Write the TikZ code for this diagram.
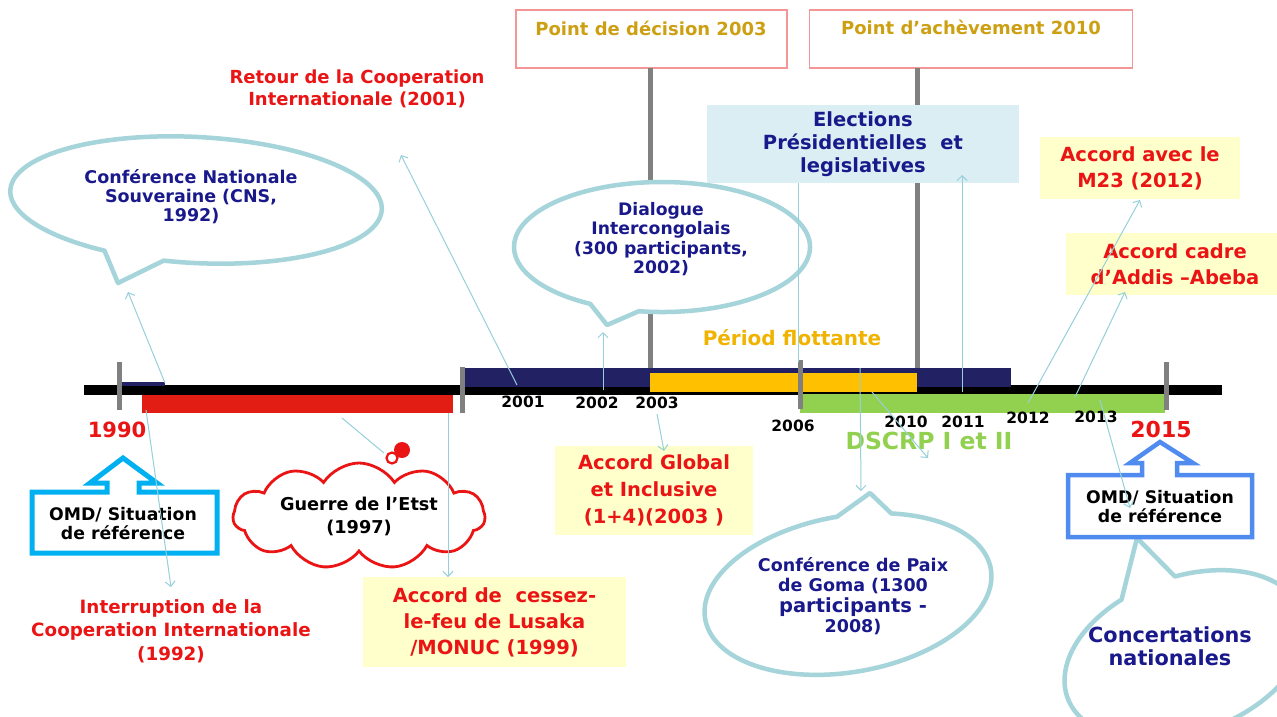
\documentclass[tikz,border=0pt]{standalone}
\usepackage{fontspec}
\setmainfont{DejaVu Sans}
\usetikzlibrary{arrows.meta,shapes.symbols}
\newcommand{\myfs}[2]{\fontsize{#1}{#2}\selectfont}
\definecolor{navytxt}{RGB}{25,25,140}
\definecolor{redtxt}{RGB}{235,20,20}
\definecolor{goldtxt}{RGB}{205,160,20}
\definecolor{flot}{RGB}{240,180,0}
\definecolor{dgreen}{RGB}{146,208,80}
\definecolor{ylw}{RGB}{255,255,204}
\definecolor{elec}{RGB}{218,238,243}
\definecolor{bub}{RGB}{165,212,218}
\definecolor{arr}{RGB}{150,208,218}
\definecolor{navybar}{RGB}{33,33,100}
\definecolor{orbar}{RGB}{255,192,0}
\definecolor{redbar}{RGB}{226,30,20}
\definecolor{grey}{RGB}{128,128,128}
\definecolor{pinkb}{RGB}{245,150,150}
\definecolor{omdl}{RGB}{0,176,240}
\definecolor{omdr}{RGB}{80,140,240}
\begin{document}
\begin{tikzpicture}[x=1pt,y=1pt,
  txt/.style={inner sep=0pt, align=center, font=\bfseries},
  conn/.style={draw=arr, line width=1pt, -{Straight Barb[length=5pt,width=10pt,line width=1pt]}},
  plainconn/.style={draw=arr, line width=1pt},
  bubble/.style={draw=bub, line width=4.5pt, fill=white, line join=round},
  topbox/.style={draw=pinkb, line width=1.2pt, fill=white, inner sep=0pt},
  ybox/.style={fill=ylw, draw=none, inner sep=0pt, align=center, text=redtxt},
  gline/.style={draw=grey, line width=5pt},
  tk/.style={draw=grey, line width=5pt},
  yr/.style={txt, font=\bfseries\myfs{15.5}{18}, text=black},
  omdbox/.style={line width=5pt, fill=white, line join=miter}
]
\useasboundingbox (0,0) rectangle (1277,-716);
\fill[white] (0,0) rectangle (1277,-716);
\clip (0,0) rectangle (1277,-716);

% ---------- top boxes ----------
\node[topbox, minimum width=271pt, minimum height=58pt] (pd) at (651.5,-39) {};
\node[txt, text=goldtxt, font=\bfseries\myfs{18}{21}] (pdt) at (651,-28) {Point de décision 2003};
\node[topbox, minimum width=323pt, minimum height=58pt] (pa) at (971,-39) {};
\node[txt, text=goldtxt, font=\bfseries\myfs{18}{21}] (pat) at (971,-27) {Point d’achèvement 2010};

% ---------- grey verticals ----------
\coordinate (g1a) at (650,-68); \coordinate (g1b) at (650,-373);
\coordinate (g2a) at (917,-68); \coordinate (g2b) at (917,-373);
\draw[gline] (g1a) -- (g1b);
\draw[gline] (g2a) -- (g2b);

% ---------- bars ----------
\fill[black] (84,-385) rectangle (1222,-395);
\fill[navybar] (118,-382) rectangle (165,-386);
\fill[redbar] (142,-395) rectangle (453,-413);
\fill[navybar] (461,-368) rectangle (1011,-387);
\fill[orbar] (650,-373) rectangle (917,-392);
\fill[dgreen] (800,-394) rectangle (1165,-413);
\draw[tk] (119,-362) -- (119,-410);
\draw[tk] (462,-367) -- (462,-413);
\draw[tk] (800,-360) -- (800,-409);
\draw[tk] (1166,-362) -- (1166,-410);

% ---------- Retour ----------
\node[txt, text=redtxt, font=\bfseries\myfs{18}{22}] (retour) at (357,-89) {Retour de la Cooperation\\Internationale (2001)};

% ---------- speech bubbles ----------
\coordinate (t1) at (118,-283);
\begin{scope}[shift={(196,-200)}, rotate=-3]
\draw[bubble] (261:186 and 63) arc[start angle=261, end angle=601.5, x radius=186, y radius=63] -- (t1) -- cycle;
\end{scope}
\node[txt, text=navytxt, font=\bfseries\myfs{17.5}{19}] (cns) at (191,-197) {Conférence Nationale\\Souveraine (CNS,\\1992)};

\coordinate (t2) at (607,-325);
\begin{scope}[shift={(662,-247)}]
\draw[bubble] (261:148 and 65) arc[start angle=261, end angle=601, x radius=148, y radius=65] -- (t2) -- cycle;
\end{scope}
\node[txt, text=navytxt, font=\bfseries\myfs{17.2}{19.5}] (dial) at (661,-239) {Dialogue\\Intercongolais\\(300 participants,\\2002)};

\coordinate (t3) at (870,-493);
\begin{scope}[shift={(848,-594)}, rotate=10]
\draw[bubble] (89:145 and 78) arc[start angle=89, end angle=427, x radius=145, y radius=78] -- (t3) -- cycle;
\end{scope}
\node[txt, text=navytxt, font=\bfseries\myfs{17.5}{20.5}] (goma) at (853,-596) {Conférence de Paix\\de Goma (1300\\{\myfs{19.5}{21}participants -}\\2008)};

\coordinate (t4) at (1137,-538);
\begin{scope}[shift={(1185,-655)}, rotate=20]
\draw[bubble] (109:125 and 78) arc[start angle=109, end angle=442, x radius=125, y radius=78] -- (t4) -- cycle;
\end{scope}
\node[txt, text=navytxt, font=\bfseries\myfs{20.8}{23}] (conc) at (1170,-646) {Concertations\\nationales};

% ---------- Elections ----------
\node[fill=elec, inner sep=0pt, minimum width=312pt, minimum height=78pt, align=center, text=navytxt, font=\bfseries\myfs{19.5}{23}] (elec) at (863,-144) {Elections\\Présidentielles\ \ et\\legislatives};

% ---------- yellow boxes ----------
\node[ybox, minimum width=200pt, minimum height=62pt, font=\bfseries\myfs{19.5}{26}] (m23) at (1140,-168) {Accord avec le\\M23 (2012)};
\node[ybox, minimum width=222pt, minimum height=62pt] (addisbox) at (1177,-264) {};
\node[txt, text=redtxt, font=\bfseries\myfs{19.5}{26}] (addis) at (1175,-264) {Accord cadre\\d’Addis –Abeba};
\node[ybox, minimum width=198pt, minimum height=89pt, font=\bfseries\myfs{19.5}{27}] (ag) at (654,-490.5) {Accord Global\\et Inclusive\\(1+4)(2003 )};
\node[ybox, minimum width=263pt, minimum height=90pt, font=\bfseries\myfs{19.5}{26}] (lus) at (494.5,-622) {Accord de\ \ cessez-\\le-feu de Lusaka\\/MONUC (1999)};

% ---------- OMD shapes ----------
\draw[omdbox, draw=omdl] (32,-492) -- (107,-492) -- (107,-483) -- (90,-483) -- (123,-458) -- (157,-483) -- (139,-483) -- (139,-492) -- (217,-492) -- (217,-553) -- (32,-553) -- cycle;
\node[txt, font=\bfseries\myfs{17.3}{19}] (omd1) at (123,-524) {OMD/ Situation\\de référence};
\draw[omdbox, draw=omdr, line width=4.5pt] (1068,-475) -- (1142,-475) -- (1142,-463) -- (1130,-463) -- (1160,-442) -- (1193,-463) -- (1177,-463) -- (1177,-475) -- (1252,-475) -- (1252,-537) -- (1068,-537) -- cycle;
\node[txt, font=\bfseries\myfs{17.3}{19}] (omd2) at (1160,-507) {OMD/ Situation\\de référence};

% ---------- cloud ----------
\node[cloud, cloud puffs=11, cloud puff arc=115, cloud ignores aspect, draw=redtxt, line width=2.8pt, fill=white, minimum width=252pt, minimum height=106pt, inner sep=0pt, align=center, font=\bfseries\myfs{17.7}{23}] (guerre) at (359,-516) {Guerre de l’Etst\\(1997)};
\fill[redtxt] (402,-450) circle[radius=8];
\draw[redtxt, line width=2.2pt, fill=white] (392,-458) circle[radius=5.5];

% ---------- labels ----------
\node[txt, text=redtxt, font=\bfseries\myfs{18.3}{23.5}] (interr) at (171,-631) {Interruption de la\\Cooperation Internationale\\(1992)};
\node[txt, text=flot, font=\bfseries\myfs{20}{22}] (flott) at (792,-338) {Périod flottante};
\node[txt, text=dgreen, font=\bfseries\myfs{23.5}{24}] (dscrp) at (929,-441) {DSCRP I et II};
\node[txt, text=redtxt, font=\bfseries\myfs{21}{24}] (y1990) at (117,-430) {1990};
\node[txt, text=redtxt, font=\bfseries\myfs{22}{24}] (y2015) at (1161,-429) {2015};
\node[yr] (y2001) at (523,-402) {2001};
\node[yr] (y2002) at (597,-403) {2002};
\node[yr] (y2003) at (657,-403) {2003};
\node[yr] (y2006) at (793,-426) {2006};
\node[yr] (y2010) at (906,-422) {2010};
\node[yr] (y2011) at (963,-422) {2011};
\node[yr] (y2012) at (1028,-418) {2012};
\node[yr] (y2013) at (1096,-417) {2013};

% ---------- connectors ----------
\coordinate (c1s) at (165,-383);  \coordinate (c1e) at (128,-292);
\coordinate (c2s) at (517,-385);  \coordinate (c2e) at (401,-155);
\coordinate (c3s) at (603,-390);  \coordinate (c3e) at (603,-332);
\coordinate (c4s) at (657,-414);  \coordinate (c4e) at (664,-451);
\coordinate (c5s) at (798,-362);  \coordinate (c5e) at (798,-183);
\coordinate (c6s) at (860,-368);  \coordinate (c6e) at (861,-491);
\coordinate (c7s) at (872,-392);  \coordinate (c7e) at (928,-458);
\coordinate (c8s) at (962,-392);  \coordinate (c8e) at (962,-175);
\coordinate (c9s) at (1028,-403); \coordinate (c9e) at (1140,-200);
\coordinate (c10s) at (1075,-397); \coordinate (c10e) at (1125,-292);
\coordinate (c11s) at (1100,-400); \coordinate (c11e) at (1130,-508);
\coordinate (c12s) at (342,-418); \coordinate (c12e) at (384,-453);
\coordinate (c13s) at (448,-413); \coordinate (c13e) at (448,-577);
\coordinate (c14s) at (146,-410); \coordinate (c14e) at (171,-587);
\draw[conn] (c1s) -- (c1e);
\draw[conn] (c2s) -- (c2e);
\draw[conn] (c3s) -- (c3e);
\draw[conn] (c4s) -- (c4e);
\draw[plainconn] (c5s) -- (c5e);
\draw[conn] (c6s) -- (c6e);
\draw[conn] (c7s) -- (c7e);
\draw[conn] (c8s) -- (c8e);
\draw[conn] (c9s) -- (c9e);
\draw[conn] (c10s) -- (c10e);
\draw[conn] (c11s) -- (c11e);
\draw[plainconn] (c12s) -- (c12e);
\draw[conn] (c13s) -- (c13e);
\draw[conn] (c14s) -- (c14e);
\end{tikzpicture}
\end{document}
